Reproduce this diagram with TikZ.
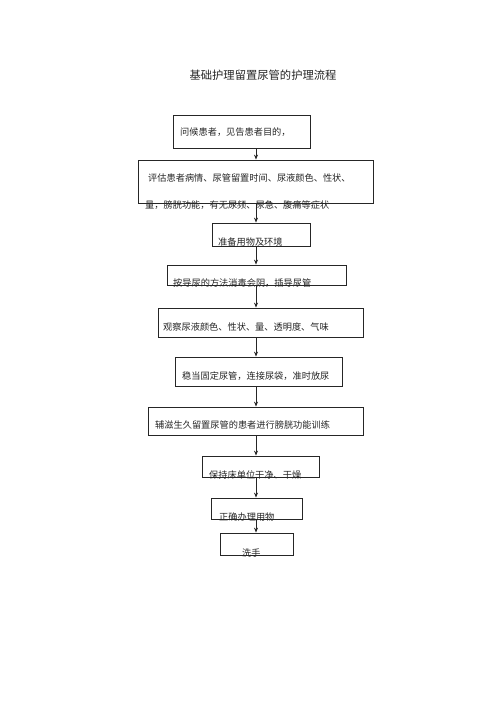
\documentclass[tikz,border=0pt]{standalone}
\usepackage{fontspec}
\setmainfont{Noto Sans CJK SC}
\usetikzlibrary{arrows.meta}
\begin{document}
\begin{tikzpicture}[x=1pt,y=-1pt,
  box/.style={draw=black!85, line width=0.8pt, inner sep=0pt, rectangle},
  txt/.style={inner sep=0pt, anchor=west, font=\fontsize{9.2}{10}\selectfont, text=black!85},
  arr/.style={draw=black!85, line width=0.8pt, -{Stealth[length=5pt,width=4pt]}}]
\useasboundingbox[fill=white] (0,0) rectangle (500,708);
\node[inner sep=0pt, font=\fontsize{11.3}{12}\selectfont, text=black!85] (title) at (263,75) {基础护理留置尿管的护理流程};
\coordinate (ax) at (256,0);
\node[box, minimum width=137pt, minimum height=33pt] (b1) at (241.5,131.5) {};
\node[box, minimum width=235pt, minimum height=43pt] (b2) at (255.5,181.5) {};
\node[box, minimum width=98pt, minimum height=23pt] (b3) at (261,234.5) {};
\node[box, minimum width=179pt, minimum height=20pt] (b4) at (256.5,275) {};
\node[box, minimum width=205pt, minimum height=29pt] (b5) at (260.5,322.5) {};
\node[box, minimum width=167pt, minimum height=29pt] (b6) at (258.5,371.5) {};
\node[box, minimum width=215pt, minimum height=28pt] (b7) at (255.5,421) {};
\node[box, minimum width=117pt, minimum height=21pt] (b8) at (260.5,466.5) {};
\node[box, minimum width=91pt, minimum height=21pt] (b9) at (256.5,508.5) {};
\node[box, minimum width=73pt, minimum height=22pt] (b10) at (256.5,544) {};
\node[txt] (t1) at (180,132) {问候患者，见告患者目的，};
\node[txt] (t2a) at (148,178) {评估患者病情、尿管留置时间、尿液颜色、性状、};
\node[txt] (t2b) at (145,205) {量，膀胱功能，有无尿频、尿急、腹痛等症状};
\node[txt] (t3) at (218,242) {准备用物及环境};
\node[txt] (t4) at (173,283) {按导尿的方法消毒会阴，插导尿管};
\node[txt] (t5) at (163,327) {观察尿液颜色、性状、量、透明度、气味};
\node[txt] (t6) at (182,376) {稳当固定尿管，连接尿袋，准时放尿};
\node[txt] (t7) at (155,425) {辅滋生久留置尿管的患者进行膀胱功能训练};
\node[txt] (t8) at (209,475) {保持床单位干净、干燥};
\node[txt] (t9) at (219,517) {正确办理用物};
\node[txt] (t10) at (242,553) {洗手};
\foreach \a/\b in {b1/b2,b2/b3,b3/b4,b4/b5,b5/b6,b6/b7,b7/b8,b8/b9,b9/b10}{
  \draw[arr] (\a.south -| ax) -- (\b.north -| ax);
}
\end{tikzpicture}
\end{document}
